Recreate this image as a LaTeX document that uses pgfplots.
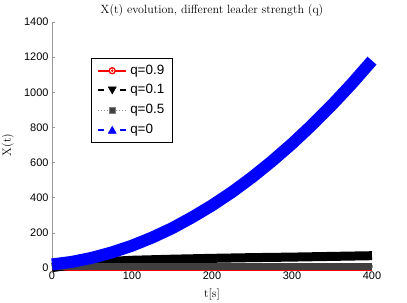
\documentclass[border=0pt]{standalone}
\usepackage{fontspec}
\setsansfont{Liberation Sans}
\usepackage{pgfplots}
\pgfplotsset{compat=1.18}
\definecolor{dgray}{rgb}{0.25,0.25,0.25}
\definecolor{axgray}{rgb}{0.6,0.6,0.6}
\begin{document}
\begin{tikzpicture}
\useasboundingbox (-52bp,-35bp) rectangle (355bp,268bp);
\begin{axis}[
  at={(0,0)}, anchor=south west,
  scale only axis, width=320bp, height=246bp,
  xmin=0, xmax=400, ymin=0, ymax=1400,
  xtick={0,100,200,300,400}, ytick={0,200,...,1400},
  axis x line=bottom, axis y line=left,
  axis line style={-, axgray, line width=0.6bp},
  tick align=inside, major tick length=3bp,
  tick style={axgray, line width=0.6bp},
  clip=false,
  tick label style={font=\sffamily\fontsize{11}{13}\selectfont},
  /pgf/number format/assume math mode=true,
  /pgf/number format/1000 sep={},
  title={X(t) evolution, different leader strength (q)},
  every axis title/.style={at={(axis description cs:0.5,1.0203)}, anchor=south, inner sep=0pt, font=\fontsize{12}{14}\selectfont},
  xlabel={t[s]},
  every axis x label/.style={at={(axis description cs:0.5,-0.0813)}, anchor=north, inner sep=0pt, font=\fontsize{12}{14}\selectfont},
  ylabel={X(t)},
  every axis y label/.style={at={(axis description cs:-0.11875,0.5)}, anchor=south, rotate=90, inner sep=0pt, font=\fontsize{12}{14}\selectfont},
  legend cell align=left,
  legend style={at={(axis description cs:0.1219,0.8537)}, anchor=north west,
    draw=black, line width=0.5bp, fill=white,
    font=\sffamily\fontsize{13.5}{15}\selectfont,
    inner xsep=6bp, inner ysep=6bp, row sep=6.7bp, column sep=3bp,
    nodes={inner xsep=0pt, inner ysep=0pt, text width=36bp, align=left, text height=10bp, text depth=3bp}},
]
% q=0.9 (red)
\addplot[red, line width=5bp, forget plot] coordinates {(0,0) (400,0)};
% q=0.1 (black)
\addplot[black, line width=9bp, line join=round, forget plot] coordinates {
(0,2) (25,18) (50,30) (75,38) (100,44) (150,50) (200,55) (250,59) (300,62) (350,66) (400,70)};
% q=0.5 (dark gray)
\addplot[dgray, line width=7bp, forget plot] coordinates {(0,8.5) (400,8.5)};
% q=0 (blue)
\addplot[blue, line width=12bp, line join=round, forget plot] coordinates {
(0,20) (25,35) (50,58) (75,89) (100,127) (125,173) (150,226) (175,288) (200,356) (225,432) (250,516) (275,608) (300,707) (325,814) (350,928) (375,1050) (400,1180)};

\addlegendimage{legend image code/.code={
  \draw[red, line width=2bp] (0bp,0bp) -- (28bp,0bp);
  \draw[red, line width=1.3bp, fill=white] (14bp,0bp) circle (3bp);
  \fill[red] (14bp,0bp) circle (0.9bp);}}
\addlegendentry{q=0.9}
\addlegendimage{legend image code/.code={
  \draw[black, line width=2bp, dash pattern=on 6bp off 16bp] (0bp,0bp) -- (28bp,0bp);
  \fill[black] (10bp,3.5bp) -- (18bp,3.5bp) -- (14bp,-3.5bp) -- cycle;}}
\addlegendentry{q=0.1}
\addlegendimage{legend image code/.code={
  \draw[axgray, line width=1bp, dash pattern=on 1bp off 2bp] (0bp,0bp) -- (28bp,0bp);
  \draw[gray, line width=0.6bp, fill=dgray] (11bp,-3bp) rectangle (17bp,3bp);}}
\addlegendentry{q=0.5}
\addlegendimage{legend image code/.code={
  \draw[blue, line width=2bp, dash pattern=on 6bp off 16bp] (0bp,0bp) -- (28bp,0bp);
  \fill[blue] (10bp,-3.5bp) -- (18bp,-3.5bp) -- (14bp,3.5bp) -- cycle;}}
\addlegendentry{q=0}
\end{axis}
\end{tikzpicture}
\end{document}
